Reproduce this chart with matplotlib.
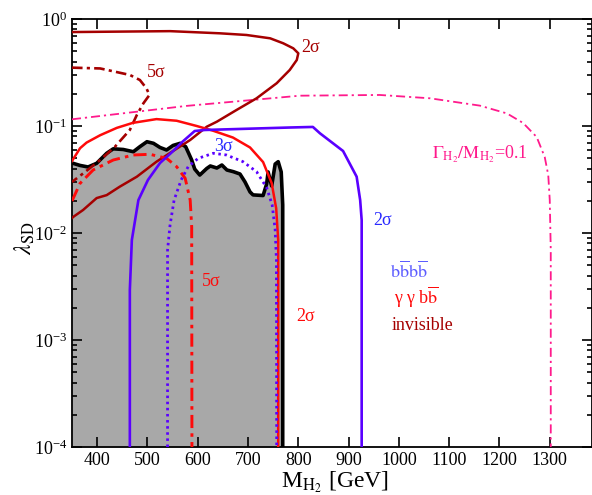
import matplotlib
matplotlib.use("Agg")
import matplotlib.pyplot as plt
from matplotlib.ticker import LogLocator, NullFormatter, FixedLocator

plt.rcParams['font.family'] = ['Liberation Serif', 'DejaVu Serif']
plt.rcParams['mathtext.fontset'] = 'stix'

# ---- data (M_H2 [GeV], lambda_SD) ----
excl_x = [350, 366, 382, 399, 419, 432, 452, 472, 485, 499, 512, 525, 538, 551, 565, 576, 582, 588,
          594, 604, 618, 625, 638, 648, 658, 671, 684, 694, 704, 710, 730, 737, 740, 747, 754, 760,
          766, 769, 769]
excl_y = [0.0451, 0.0428, 0.0414, 0.0448, 0.0556, 0.0612, 0.0603, 0.0575, 0.0641, 0.0713, 0.0689,
          0.0630, 0.0597, 0.0658, 0.0689, 0.0641, 0.0556, 0.0481, 0.0396, 0.0348, 0.0401, 0.0423,
          0.0405, 0.0432, 0.0388, 0.0374, 0.0356, 0.0300, 0.0242, 0.0227, 0.0224, 0.0287, 0.0372,
          0.0275, 0.0441, 0.0464, 0.0372, 0.0183, 1e-4]

inv2_x = [350, 545, 644, 697, 744, 770, 790, 800, 797, 783, 757, 717, 677, 638, 618, 585, 545, 518,
          479, 445, 419, 399, 372, 353, 350]
inv2_y = [0.755, 0.770, 0.735, 0.709, 0.660, 0.593, 0.532, 0.478, 0.414, 0.334, 0.251, 0.1815, 0.141,
          0.1097, 0.0985, 0.074, 0.056, 0.0464, 0.0336, 0.0271, 0.0226, 0.0212, 0.0164, 0.0142, 0.0138]

inv5_x = [350, 406, 465, 485, 498, 504, 492, 479, 465, 435, 406, 376, 350]
inv5_y = [0.351, 0.345, 0.300, 0.269, 0.225, 0.195, 0.163, 0.127, 0.0918, 0.0637, 0.0481, 0.0372, 0.030]

width_x = [350, 577, 803, 962, 1062, 1161, 1215, 1247, 1274, 1290, 1297, 1300, 1302, 1302]
width_y = [0.1155, 0.154, 0.192, 0.195, 0.1815, 0.155, 0.131, 0.1067, 0.0789, 0.0513, 0.0348, 0.0203,
           0.0069, 1e-4]

gg2_x = [350, 366, 379, 406, 439, 471, 518, 558, 598, 630, 670, 704, 730, 747, 756, 760, 760]
gg2_y = [0.0471, 0.062, 0.070, 0.082, 0.096, 0.107, 0.116, 0.112, 0.100, 0.0905, 0.078, 0.063, 0.046,
         0.0293, 0.017, 0.0086, 1e-4]

gg5_x = [350, 366, 392, 432, 472, 505, 538, 558, 575, 585, 588, 588.5]
gg5_y = [0.0199, 0.0291, 0.0388, 0.0481, 0.0536, 0.0544, 0.0499, 0.0417, 0.0325, 0.0203, 0.0114, 1e-4]

bb2_x = [465, 465, 469, 482, 501, 525, 549, 569, 594, 614, 783, 829, 843, 889, 916, 923, 926, 926]
bb2_y = [1e-4, 0.00293, 0.0086, 0.0203, 0.0313, 0.0451, 0.0571, 0.0708, 0.0898, 0.0918, 0.0968, 0.098,
         0.0855, 0.0584, 0.0336, 0.0203, 0.0132, 1e-4]

bb3_x = [540, 540, 545, 553, 567, 581, 601, 631, 657, 690, 717, 737, 748, 754, 756.5, 757]
bb3_y = [1e-4, 0.00693, 0.0119, 0.0203, 0.0313, 0.0417, 0.0499, 0.0556, 0.0536, 0.0464, 0.0374, 0.0266,
         0.0183, 0.0107, 0.0056, 1e-4]

x_ticks = [400, 500, 600, 700, 800, 900, 1000, 1100, 1200, 1300]

DARKRED = '#a50000'
RED = '#ff0a0a'
BLUE = '#5a00ff'
LABELBLUE = '#2a2aff'
MAGENTA = '#ff1a8c'

fig = plt.figure(figsize=(5.92, 4.95), dpi=100)
ax = fig.add_axes([72 / 592, 1 - 447 / 495, 520 / 592, (447 - 19) / 495])
ax.set_yscale('log')
ax.set_xlim(350, 1384)
ax.set_ylim(1e-4, 1)

ax.fill_between(excl_x, excl_y, 1e-4, color='#a8a8a8', lw=0, zorder=1)
ax.plot(excl_x, excl_y, color='black', lw=2.6, zorder=2)

ax.plot(width_x, width_y, color=MAGENTA, lw=1.3, ls=(0, (5, 2.2, 1.2, 2.2)), zorder=3)
ax.plot(inv2_x, inv2_y, color=DARKRED, lw=1.8, zorder=4)
ax.plot(inv5_x, inv5_y, color=DARKRED, lw=1.9, ls=(0, (4, 1.6, 1.2, 1.6)), zorder=4)
ax.plot(gg2_x, gg2_y, color=RED, lw=1.8, zorder=5)
ax.plot(gg5_x, gg5_y, color=RED, lw=2.1, ls=(0, (4.5, 1.8, 1.2, 1.8)), zorder=5)
ax.plot(bb2_x, bb2_y, color=BLUE, lw=1.9, zorder=6)
ax.plot(bb3_x, bb3_y, color=BLUE, lw=2.0, ls=(0, (0.9, 1.3)), zorder=6)

# contour labels
ax.text(805, 0.54, '2σ', color=DARKRED, fontsize=13, ha='left', va='center')
ax.text(518, 0.315, '5σ', color=DARKRED, fontsize=13, ha='center', va='center')
ax.text(652, 0.065, '3σ', color=LABELBLUE, fontsize=13, ha='center', va='center')
ax.text(967, 0.0132, '2σ', color=LABELBLUE, fontsize=13, ha='center', va='center')
ax.text(627, 0.0035, '5σ', color=RED, fontsize=13, ha='center', va='center')
ax.text(815, 0.00165, '2σ', color=RED, fontsize=13, ha='center', va='center')
ax.text(1162, 0.054, r'$\Gamma_{\mathrm{H}_2}/\mathrm{M}_{\mathrm{H}_2}$=0.1', color=MAGENTA,
        fontsize=13, ha='center', va='center')

# legend texts
ax.text(982, 0.0044, r'$\mathrm{b}\overline{\mathrm{b}}\mathrm{b}\overline{\mathrm{b}}$', color='#5c5cff',
        fontsize=13, ha='left', va='center')
ax.text(990, 0.0025, r'γ γ b$\overline{\mathrm{b}}$', color=RED, fontsize=13, ha='left', va='center')
ax.text(985, 0.00138, 'invisible', color=DARKRED, fontsize=13, ha='left', va='center')

# ticks
ax.xaxis.set_major_locator(FixedLocator(x_ticks))
ax.yaxis.set_major_locator(LogLocator(base=10, numticks=10))
ax.yaxis.set_minor_locator(LogLocator(base=10, subs=range(2, 10), numticks=20))
ax.yaxis.set_minor_formatter(NullFormatter())
ax.tick_params(which='both', direction='in', top=True, right=True, labelsize=13, width=1.2)
ax.tick_params(which='major', length=7)
ax.tick_params(which='minor', length=3.5)
for s in ax.spines.values():
    s.set_linewidth(1.3)

fig.text(25 / 592, 1 - 238 / 495, r'$\lambda_{\mathrm{SD}}$', rotation=90, fontsize=17,
         ha='center', va='center')
fig.text(335 / 592, 1 - 482 / 495, r'M$_{\mathrm{H}_2}$ [GeV]', fontsize=17, ha='center', va='center')

fig.savefig('out.png', dpi=100)
